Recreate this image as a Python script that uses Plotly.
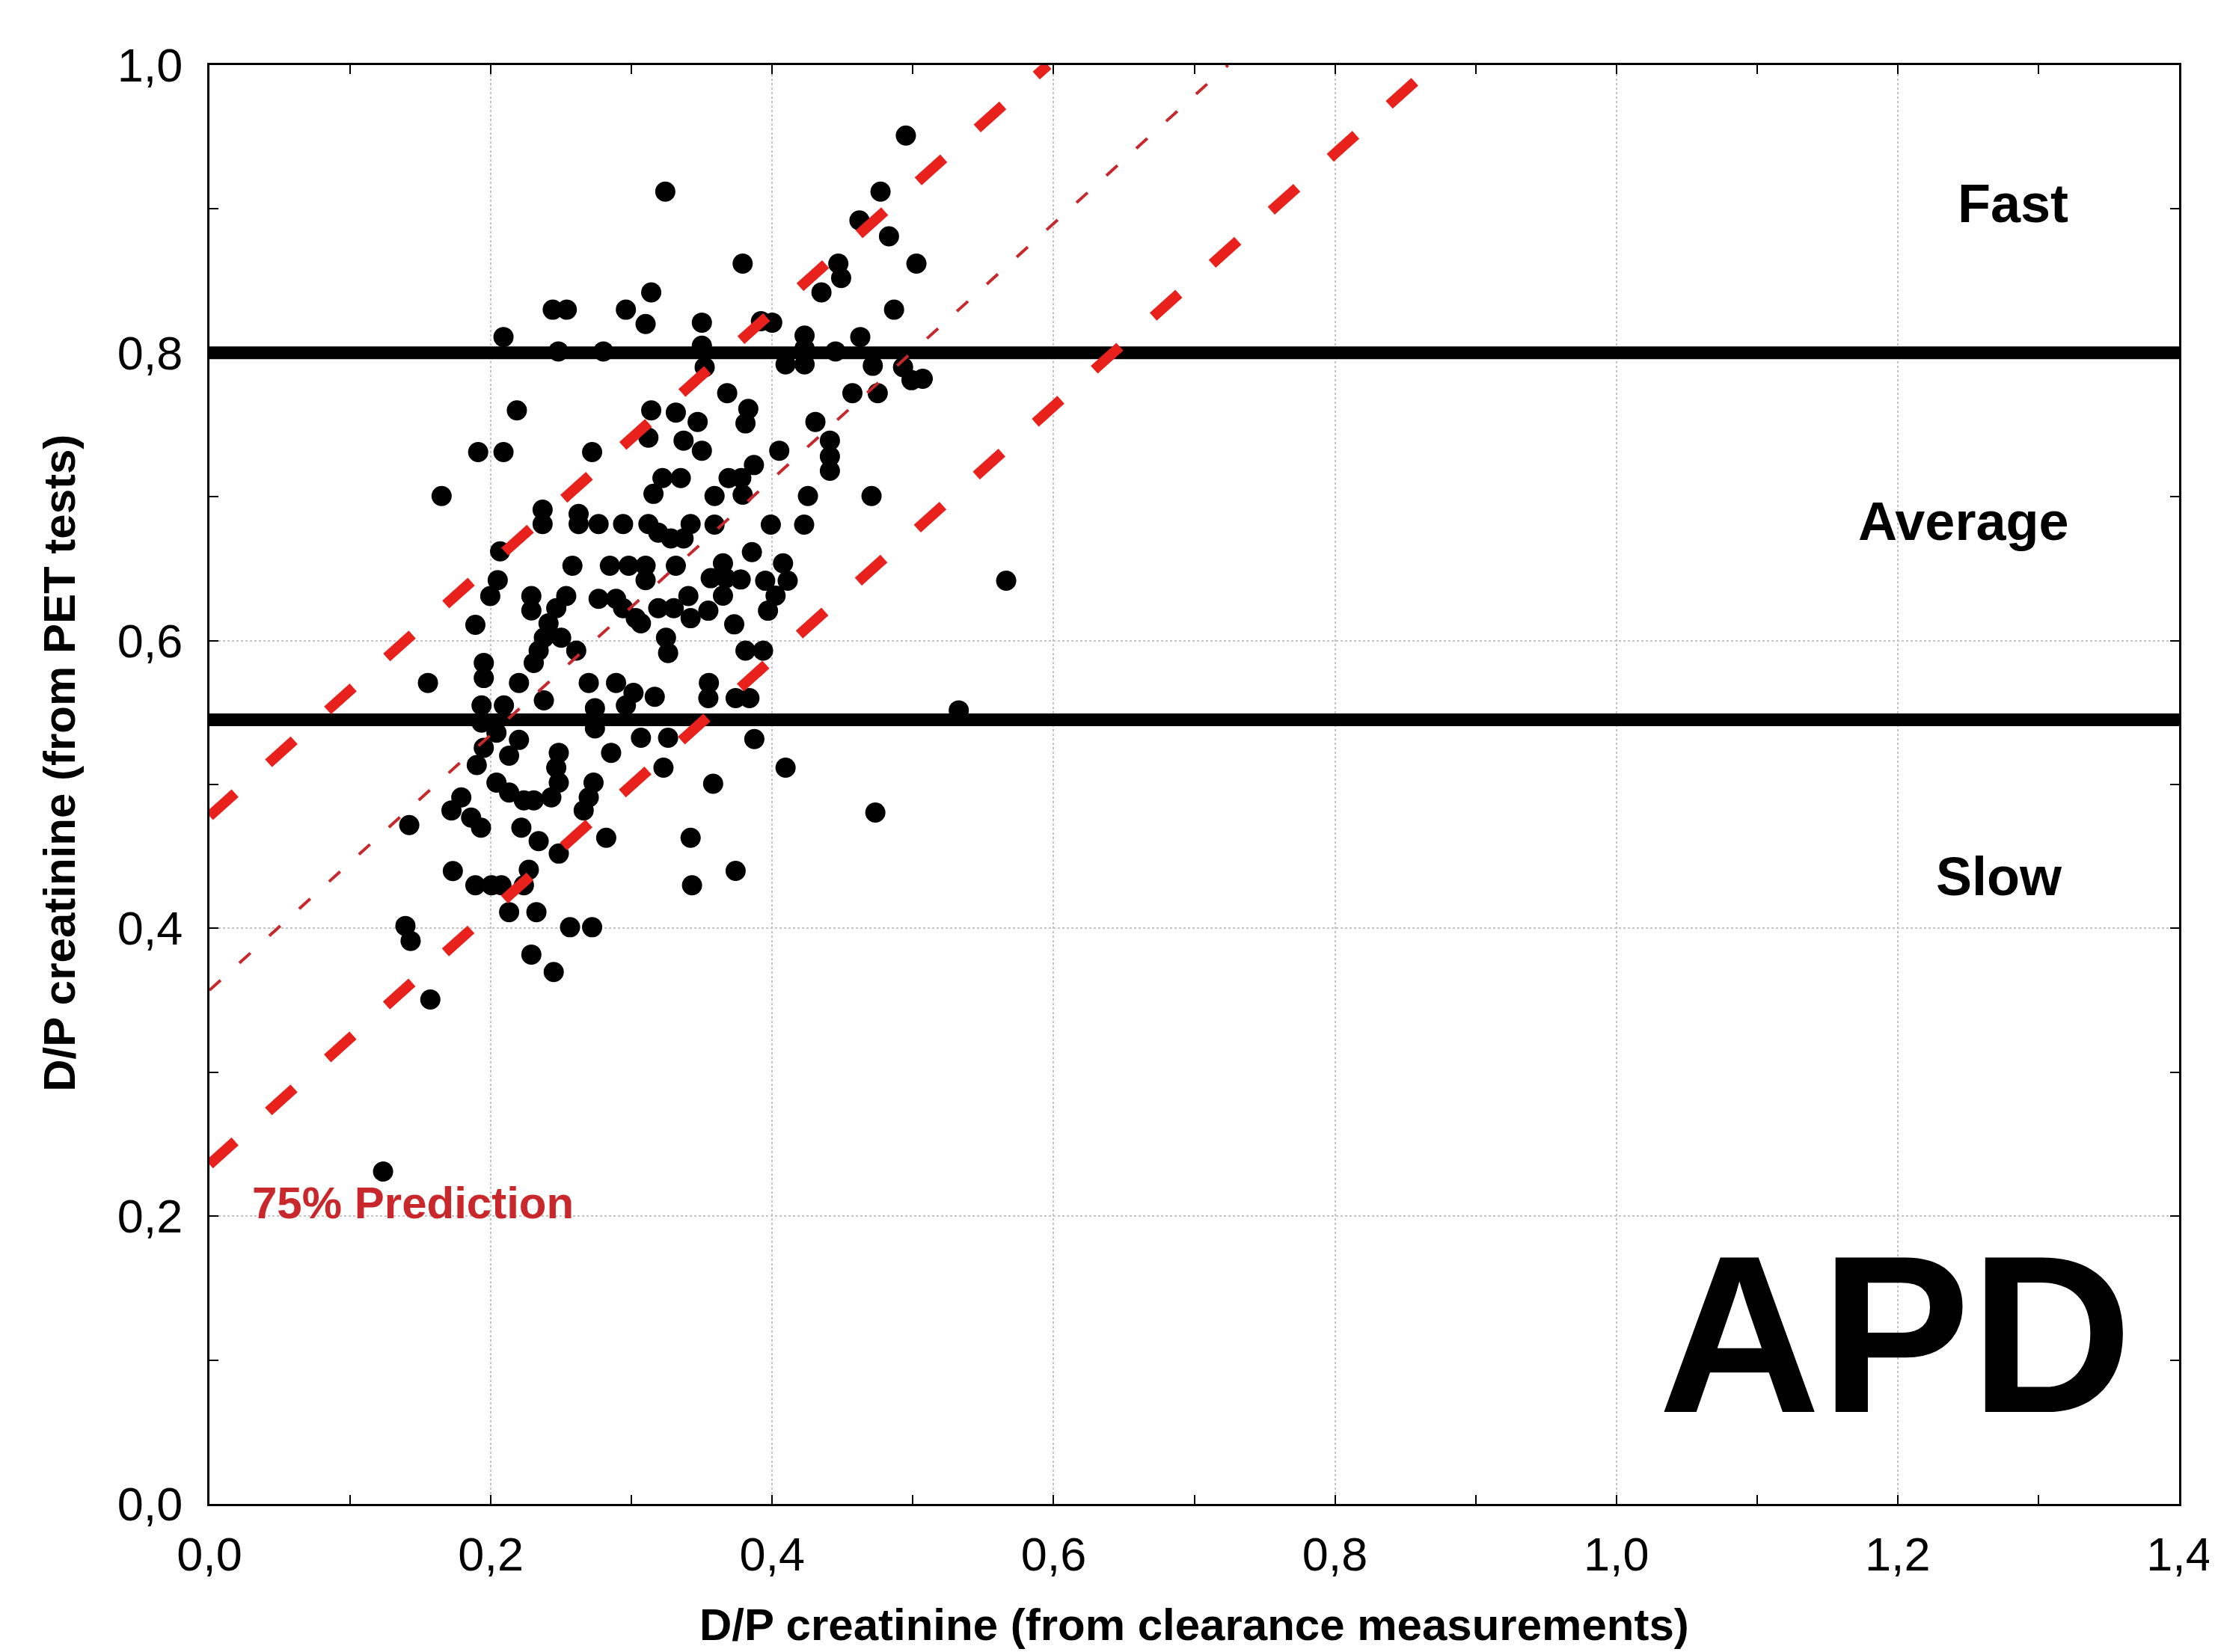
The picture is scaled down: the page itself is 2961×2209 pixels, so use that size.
import plotly.graph_objects as go

# ---------------- data ----------------
clear_dp = [
    0.324, 0.314, 0.244, 0.254, 0.296, 0.310, 0.350, 0.209, 0.248, 0.280, 0.350, 0.352,
    0.2185, 0.314, 0.3315, 0.312, 0.347, 0.337, 0.350, 0.191, 0.209, 0.272, 0.322, 0.335,
    0.495, 0.477, 0.462, 0.483, 0.379, 0.5025, 0.447, 0.449, 0.435, 0.4866, 0.392, 0.400,
    0.423, 0.423, 0.423, 0.4095, 0.445, 0.4626, 0.4715, 0.493, 0.499, 0.507, 0.368, 0.383,
    0.381, 0.457, 0.475, 0.4307, 0.441, 0.441, 0.441, 0.405, 0.387, 0.369, 0.378,
    0.165, 0.3156, 0.2368, 0.2368, 0.2624, 0.2624, 0.2766, 0.294, 0.312, 0.319, 0.342, 0.328,
    0.337, 0.2066, 0.258, 0.2846, 0.298, 0.310, 0.310, 0.3315, 0.2049, 0.1996, 0.2288, 0.2288,
    0.2536, 0.2465, 0.241, 0.2377, 0.234, 0.2305, 0.250, 0.2607, 0.2766, 0.289, 0.294, 0.303,
    0.319, 0.330, 0.3404, 0.342, 0.3067, 0.3245, 0.326, 0.189, 0.195, 0.195, 0.1553, 0.220,
    0.2696, 0.289, 0.3014, 0.3165, 0.1934, 0.2093, 0.2377, 0.274, 0.296, 0.1934, 0.204, 0.220,
    0.213, 0.195, 0.190, 0.274, 0.2855, 0.3067, 0.326, 0.3227, 0.2483, 0.2465, 0.2483, 0.243,
    0.204, 0.213, 0.2235, 0.2305, 0.273, 0.2696, 0.266, 0.179, 0.172, 0.186, 0.193, 0.142,
    0.2217, 0.282, 0.342,
    0.359, 0.379, 0.4254, 0.4706, 0.359, 0.399, 0.4227, 0.3856, 0.365, 0.3563, 0.367, 0.3776,
    0.365, 0.3546, 0.4077, 0.411, 0.395, 0.4024, 0.397, 0.373, 0.381, 0.3935, 0.355, 0.3546,
    0.374, 0.3838, 0.5326, 0.5663, 0.3873, 0.4095, 0.358, 0.4733,
    0.173, 0.189, 0.2005, 0.2075, 0.2235, 0.227, 0.2483, 0.234, 0.343, 0.213, 0.2324, 0.2563,
    0.272, 0.1393, 0.143, 0.2288, 0.2447, 0.157, 0.1234, 0.374,
]
pet_dp = [
    0.912, 0.842, 0.830, 0.830, 0.830, 0.820, 0.821, 0.811, 0.801, 0.801, 0.805, 0.790,
    0.760, 0.760, 0.7585, 0.741, 0.752, 0.739, 0.732, 0.731, 0.731, 0.731, 0.713, 0.713,
    0.951, 0.912, 0.892, 0.881, 0.862, 0.862, 0.862, 0.852, 0.842, 0.830, 0.822, 0.821,
    0.812, 0.803, 0.792, 0.792, 0.801, 0.811, 0.791, 0.790, 0.781, 0.782, 0.772, 0.761,
    0.751, 0.772, 0.772, 0.752, 0.739, 0.728, 0.718, 0.732, 0.722, 0.713, 0.713,
    0.7005, 0.702, 0.691, 0.681, 0.688, 0.681, 0.681, 0.681, 0.681, 0.675, 0.681, 0.671,
    0.671, 0.662, 0.652, 0.652, 0.652, 0.652, 0.642, 0.652, 0.642, 0.631, 0.631, 0.621,
    0.631, 0.6225, 0.612, 0.602, 0.593, 0.5845, 0.602, 0.593, 0.629, 0.629, 0.6225, 0.6156,
    0.6225, 0.6225, 0.631, 0.6156, 0.612, 0.602, 0.5914, 0.611, 0.5845, 0.574, 0.5706, 0.5706,
    0.5706, 0.5706, 0.5637, 0.561, 0.555, 0.555, 0.5585, 0.553, 0.555, 0.543, 0.536, 0.531,
    0.520, 0.5255, 0.5135, 0.539, 0.522, 0.5325, 0.5325, 0.5117, 0.522, 0.5117, 0.5013, 0.491,
    0.5013, 0.4944, 0.489, 0.489, 0.5013, 0.491, 0.482, 0.491, 0.482, 0.477, 0.470, 0.4718,
    0.470, 0.463, 0.463,
    0.7005, 0.7014, 0.7005, 0.7005, 0.6806, 0.6806, 0.6806, 0.6615, 0.6537, 0.6434, 0.6434, 0.6425,
    0.6312, 0.6208, 0.6537, 0.6416, 0.6416, 0.6312, 0.6208, 0.6113, 0.593, 0.593, 0.5706, 0.560,
    0.560, 0.560, 0.5515, 0.6416, 0.5316, 0.5117, 0.5005, 0.4805,
    0.4398, 0.430, 0.430, 0.430, 0.430, 0.4407, 0.452, 0.4606, 0.430, 0.4113, 0.4113, 0.4008,
    0.4008, 0.4017, 0.3913, 0.3818, 0.3697, 0.3506, 0.231, 0.440,
]

# category boundaries (slow / average / fast)
class_cutoffs = [0.545, 0.80]
class_names = ["Slow", "Average", "Fast"]
class_label_x = [1.272, 1.247, 1.282]
class_label_y = [0.436, 0.683, 0.904]

# regression line and 75% prediction limits (end points)
fit_x = [0.0, 0.724]
fit_y = [0.357, 1.0]
upper_x = [0.0, 0.596]
upper_y = [0.478, 1.0]
lower_x = [0.0, 0.870]
lower_y = [0.236, 1.0]

x_ticks = [0.0, 0.2, 0.4, 0.6, 0.8, 1.0, 1.2, 1.4]
x_ticktext = ["0,0", "0,2", "0,4", "0,6", "0,8", "1,0", "1,2", "1,4"]
y_ticks = [0.0, 0.2, 0.4, 0.6, 0.8, 1.0]
y_ticktext = ["0,0", "0,2", "0,4", "0,6", "0,8", "1,0"]

x_title = "D/P creatinine (from clearance measurements)"
y_title = "D/P creatinine (from PET tests)"

FONT = "Liberation Sans, Arial, Helvetica, sans-serif"
RED = "#e8211d"
DARKRED = "#c8282c"

fig = go.Figure()

# points
fig.add_trace(go.Scatter(
    x=clear_dp, y=pet_dp, mode="markers",
    marker=dict(symbol="circle", size=27, color="black", line=dict(width=0)),
    showlegend=False, hoverinfo="x+y"))

# class boundaries
for c in class_cutoffs:
    fig.add_trace(go.Scatter(
        x=[0.0, 1.4], y=[c, c], mode="lines",
        line=dict(color="black", width=17), showlegend=False, hoverinfo="skip",
        cliponaxis=False))

# regression + prediction lines
fig.add_trace(go.Scatter(x=fit_x, y=fit_y, mode="lines",
                         line=dict(color=DARKRED, width=4, dash="20px,34px"),
                         showlegend=False, hoverinfo="skip"))
for lx, ly in ((upper_x, upper_y), (lower_x, lower_y)):
    fig.add_trace(go.Scatter(x=lx, y=ly, mode="lines",
                             line=dict(color=RED, width=14, dash="46px,60px"),
                             showlegend=False, hoverinfo="skip"))

annotations = []
for name, ax_, ay_ in zip(class_names, class_label_x, class_label_y):
    annotations.append(dict(x=ax_, y=ay_, xref="x", yref="y", text="<b>%s</b>" % name,
                            showarrow=False, font=dict(family=FONT, size=72, color="black"),
                            xanchor="center", yanchor="middle"))
annotations.append(dict(x=1.198, y=0.118, xref="x", yref="y", text="<b>APD</b>",
                        showarrow=False, font=dict(family=FONT, size=300, color="black"),
                        xanchor="center", yanchor="middle"))
annotations.append(dict(x=0.1445, y=0.209, xref="x", yref="y", text="<b>75% Prediction</b>",
                        showarrow=False, font=dict(family=FONT, size=60, color=DARKRED),
                        xanchor="center", yanchor="middle"))
# axis titles placed as paper-anchored text
annotations.append(dict(x=0.5, y=-0.084, xref="paper", yref="paper", text="<b>%s</b>" % x_title,
                        showarrow=False, font=dict(family=FONT, size=60, color="black"),
                        xanchor="center", yanchor="middle"))
annotations.append(dict(x=-0.0761, y=0.515, xref="paper", yref="paper", text="<b>%s</b>" % y_title,
                        showarrow=False, textangle=-90, font=dict(family=FONT, size=60, color="black"),
                        xanchor="center", yanchor="middle"))

axis_common = dict(
    showline=True, linecolor="black", linewidth=3, mirror="ticks",
    ticks="inside", ticklen=12, tickwidth=2, tickcolor="black",
    showgrid=True, gridcolor="#c4c4c4", gridwidth=2, griddash="dot",
    zeroline=False,
    tickfont=dict(family=FONT, size=63, color="black"),
    minor=dict(dtick=0.1, ticks="inside", ticklen=12, tickwidth=2, tickcolor="black", showgrid=False),
)

# page body has an 8px margin; size the figure so the plot lands where the reference has it
fig.update_layout(
    width=2961, height=2201,
    margin=dict(l=272, r=47, t=79, b=198),
    paper_bgcolor="white", plot_bgcolor="white",
    font=dict(family=FONT, color="black"),
    xaxis=dict(range=[0, 1.4], tickvals=x_ticks, ticktext=x_ticktext,
               ticklabelstandoff=10, **axis_common),
    yaxis=dict(range=[0, 1.0], tickvals=y_ticks, ticktext=y_ticktext,
               ticklabelstandoff=20, **axis_common),
    annotations=annotations,
    showlegend=False,
)

fig.write_html("out.html")
